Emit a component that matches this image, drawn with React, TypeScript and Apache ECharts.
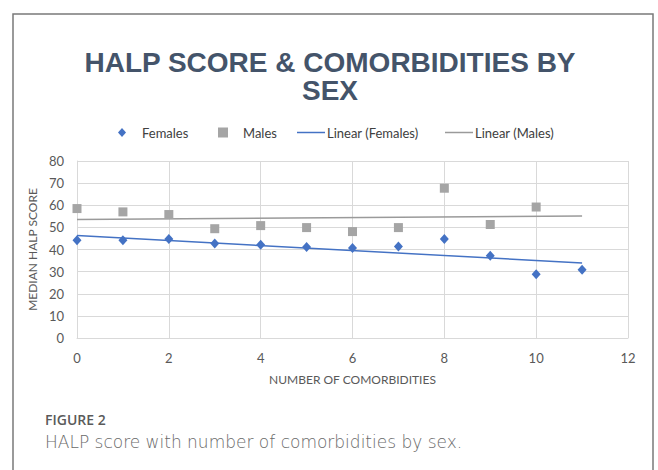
import React, { useEffect, useRef } from "react";
import * as echarts from "echarts";

const comorbidities = [0, 1, 2, 3, 4, 5, 6, 7, 8, 9, 10, 11];
const femalesScore = [44.2, 44.2, 44.8, 42.7, 42.2, 41.1, 40.7, 41.3, 44.8, 37.2, 28.8, 30.9];
const malesX = [0, 1, 2, 3, 4, 5, 6, 7, 8, 9, 10];
const malesScore = [58.5, 57.0, 55.8, 49.4, 50.8, 49.9, 48.1, 49.9, 67.7, 51.3, 59.2];
const trendX = [0, 11];
const femalesTrend = [46.3, 33.9];
const malesTrend = [53.6, 55.1];

const FEMALE = "#4472C4";
const MALE = "#A5A5A5";
const MALE_TREND = "#9a9a9a";
const LABEL = "#595959";
const GRID = "#D9D9D9";
const LINE_ICON = "path://M0,0H28V1.5H0Z";

export default function App() {
  const ref = useRef<HTMLDivElement>(null);
  useEffect(() => {
    document.body.style.margin = "0";
    const chart = echarts.init(ref.current!, undefined, { renderer: "svg" });
    const legendText = { fontFamily: "Lato", fontSize: 13, color: "#404040" };
    chart.setOption({
      animation: false,
      backgroundColor: "#ffffff",
      title: {
        text: "HALP SCORE & COMORBIDITIES BY\nSEX",
        left: 330,
        top: 48,
        padding: 0,
        textAlign: "center",
        textStyle: {
          fontFamily: "Liberation Sans",
          fontWeight: "bold",
          fontSize: 28,
          lineHeight: 28,
          color: "#44546A",
        },
      },
      legend: [
        { data: [{ name: "Females", icon: "diamond" }], left: 118, top: 126, padding: 0, itemWidth: 8, itemHeight: 9, textStyle: { ...legendText, padding: [0, 0, 0, 11] } },
        { data: [{ name: "Males", icon: "rect" }], left: 218, top: 126, padding: 0, itemWidth: 10, itemHeight: 10, textStyle: { ...legendText, padding: [0, 0, 0, 10] } },
        { data: [{ name: "Linear (Females)", icon: LINE_ICON, itemStyle: { color: FEMALE } }], left: 297, top: 126, padding: 0, itemWidth: 28, itemHeight: 10, textStyle: { ...legendText, padding: [0, 0, 0, -3] } },
        { data: [{ name: "Linear (Males)", icon: LINE_ICON, itemStyle: { color: MALE_TREND } }], left: 445, top: 126, padding: 0, itemWidth: 28, itemHeight: 10, textStyle: { ...legendText, padding: [0, 0, 0, -3] } },
      ],
      grid: { left: 77, right: 30, top: 161, bottom: 132 },
      xAxis: {
        type: "value",
        min: 0,
        max: 12,
        interval: 2,
        name: "NUMBER OF COMORBIDITIES",
        nameLocation: "middle",
        nameGap: 35,
        nameTextStyle: { fontFamily: "Lato", fontSize: 12, color: LABEL },
        axisLine: { show: true, lineStyle: { color: GRID, width: 1 } },
        axisTick: { show: false },
        axisLabel: { fontFamily: "Lato", fontSize: 13, color: LABEL, margin: 13 },
        splitLine: { show: true, lineStyle: { color: GRID, width: 1 } },
      },
      yAxis: {
        type: "value",
        min: 0,
        max: 80,
        interval: 10,
        name: "MEDIAN HALP SCORE",
        nameLocation: "middle",
        nameGap: 36,
        nameTextStyle: { fontFamily: "Lato", fontSize: 12, color: LABEL },
        axisLine: { show: true, lineStyle: { color: GRID, width: 1 } },
        axisTick: { show: false },
        axisLabel: { fontFamily: "Lato", fontSize: 13, color: LABEL, margin: 13 },
        splitLine: { show: true, lineStyle: { color: GRID, width: 1 } },
      },
      series: [
        {
          name: "Females",
          type: "scatter",
          symbol: "diamond",
          symbolSize: [9, 10],
          itemStyle: { color: FEMALE, opacity: 1 },
          data: comorbidities.map((x, i) => [x, femalesScore[i]]),
          z: 3,
        },
        {
          name: "Males",
          type: "scatter",
          symbol: "rect",
          symbolSize: 9,
          itemStyle: { color: MALE, opacity: 1 },
          data: malesX.map((x, i) => [x, malesScore[i]]),
          z: 3,
        },
        {
          name: "Linear (Females)",
          type: "line",
          symbol: "none",
          lineStyle: { color: FEMALE, width: 1.5 },
          itemStyle: { color: FEMALE },
          data: trendX.map((x, i) => [x, femalesTrend[i]]),
          z: 2,
        },
        {
          name: "Linear (Males)",
          type: "line",
          symbol: "none",
          lineStyle: { color: MALE_TREND, width: 1.5 },
          itemStyle: { color: MALE_TREND },
          data: trendX.map((x, i) => [x, malesTrend[i]]),
          z: 2,
        },
      ],
      graphic: [
        {
          type: "rect",
          shape: { x: 13, y: 14, width: 640, height: 480 },
          style: { fill: "none", stroke: "#7a7a7a", lineWidth: 1.5 },
          silent: true,
        },
        {
          type: "text",
          x: 45,
          y: 419,
          style: {
            text: "FIGURE 2",
            fontFamily: "Open Sans",
            fontSize: 14,
            fontWeight: 600,
            fill: "#5a5a5a",
            verticalAlign: "middle",
          },
        },
        {
          type: "text",
          x: 45,
          y: 442,
          style: {
            text: "HALP score with number of comorbidities by sex.",
            fontFamily: "DejaVu Sans",
            fontSize: 17,
            fontWeight: 200,
            fill: "#6a6a6a",
            verticalAlign: "middle",
          },
        },
      ],
    });
    return () => chart.dispose();
  }, []);
  return <div ref={ref} style={{ width: 658, height: 470 }} />;
}
